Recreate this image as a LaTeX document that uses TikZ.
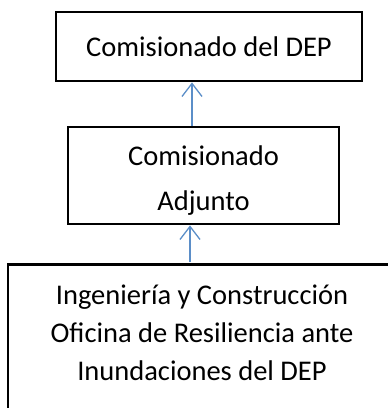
\documentclass[tikz,border=0pt]{standalone}
\usepackage{fontspec}
\setmainfont{Carlito}
\usetikzlibrary{arrows.meta}

\tikzset{
  box/.style={draw, line width=2.8pt, inner sep=0pt, align=center, font=\fontsize{28.5}{38}\selectfont},
  link/.style={draw={rgb,255:red,91;green,142;blue,200}, line width=1.3pt, -{Straight Barb[length=13pt,width=20pt,line width=1.3pt]}}
}

\begin{document}
\begin{tikzpicture}[x=1pt,y=-1pt]
\useasboundingbox (0,0) rectangle (388,408);
\clip (0,0) rectangle (388,408);
\node[box, minimum width=306pt, minimum height=69pt] (dep) at (209,46.5) {Comisionado del DEP};
\node[box, minimum width=271pt, minimum height=97pt] (adj) at (203.5,175.5) {};
\node[font=\fontsize{28.5}{45}\selectfont, align=center] (adjtxt) at (203.5,180.5) {Comisionado\\Adjunto};
\node[box, minimum width=388pt, minimum height=170pt, anchor=north] (ofi) at (202,263) {};
\node[font=\fontsize{28.5}{38}\selectfont, align=center] (ofitxt) at (202,333) {Ingeniería y Construcción\\Oficina de Resiliencia ante\\Inundaciones del DEP};
\coordinate (a1) at (192,126);
\coordinate (a2) at (190,262);
\draw[link] (a1) -- (a1 |- dep.south);
\draw[link] (a2) -- (a2 |- adj.south);
\end{tikzpicture}
\end{document}
